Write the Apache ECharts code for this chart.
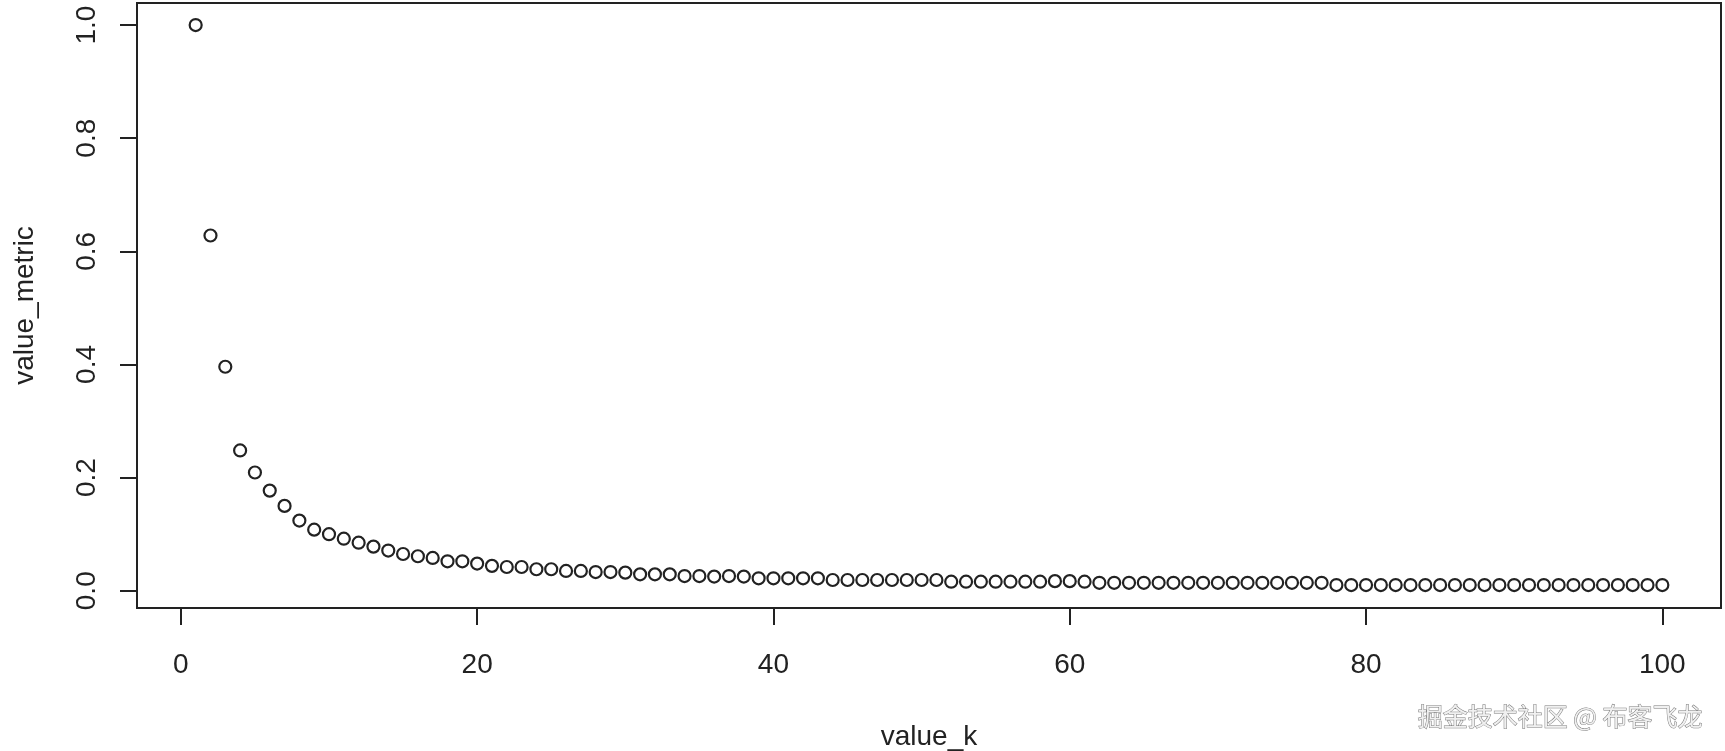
<!DOCTYPE html>
<html>
<head>
<meta charset="utf-8">
<script src="https://cdn.jsdelivr.net/npm/echarts@6/dist/echarts.min.js"></script>
<style>
  html, body { margin: 0; padding: 0; background: #fff; }
  #main { width: 1725px; height: 751px; }
</style>
</head>
<body>
<div id="main"></div>
<script>
// k on the x axis
var valueK = [
  1, 2, 3, 4, 5, 6, 7, 8, 9, 10, 11, 12, 13, 14, 15, 16, 17, 18, 19, 20,
  21, 22, 23, 24, 25, 26, 27, 28, 29, 30, 31, 32, 33, 34, 35, 36, 37, 38, 39, 40,
  41, 42, 43, 44, 45, 46, 47, 48, 49, 50, 51, 52, 53, 54, 55, 56, 57, 58, 59, 60,
  61, 62, 63, 64, 65, 66, 67, 68, 69, 70, 71, 72, 73, 74, 75, 76, 77, 78, 79, 80,
  81, 82, 83, 84, 85, 86, 87, 88, 89, 90, 91, 92, 93, 94, 95, 96, 97, 98, 99, 100
];
// metric
var valueMetric = [
  1.000, 0.628, 0.396, 0.248, 0.209, 0.177, 0.150, 0.124, 0.108, 0.100,
  0.092, 0.085, 0.078, 0.071, 0.065, 0.061, 0.058, 0.052, 0.052, 0.048,
  0.044, 0.042, 0.042, 0.038, 0.038, 0.035, 0.035, 0.033, 0.033, 0.032,
  0.029, 0.029, 0.029, 0.026, 0.026, 0.025, 0.026, 0.025, 0.022, 0.022,
  0.022, 0.022, 0.022, 0.019, 0.019, 0.019, 0.019, 0.019, 0.019, 0.019,
  0.019, 0.016, 0.016, 0.016, 0.016, 0.016, 0.016, 0.016, 0.017, 0.017,
  0.016, 0.014, 0.014, 0.014, 0.014, 0.014, 0.014, 0.014, 0.014, 0.014,
  0.014, 0.014, 0.014, 0.014, 0.014, 0.014, 0.014, 0.010, 0.010, 0.010,
  0.010, 0.010, 0.010, 0.010, 0.010, 0.010, 0.010, 0.010, 0.010, 0.010,
  0.010, 0.010, 0.010, 0.010, 0.010, 0.010, 0.010, 0.010, 0.010, 0.010
];
var xTicks = [0, 20, 40, 60, 80, 100];
var yTicks = [0, 0.2, 0.4, 0.6, 0.8, 1.0];

var points = valueK.map(function (k, i) { return [k, valueMetric[i]]; });

var font = "'Liberation Sans', Arial, sans-serif";
var ink = '#222';

var myChart = echarts.init(document.getElementById('main'));
var option = {
  backgroundColor: '#fff',
  animation: false,
  grid: {
    left: 137, top: 3, width: 1584, height: 605,
    outerBoundsMode: 'none',
    containLabel: false,
    show: true, borderColor: ink, borderWidth: 2, backgroundColor: 'transparent'
  },
  xAxis: {
    type: 'value',
    min: -2.96, max: 103.96,
    name: 'value_k',
    nameLocation: 'middle',
    nameGap: 115,
    nameTextStyle: { color: ink, fontFamily: font, fontSize: 28 },
    axisLine: { show: false, onZero: false },
    splitLine: { show: false },
    axisTick: { show: true, inside: false, length: 17, customValues: xTicks,
      lineStyle: { color: ink, width: 2 } },
    axisLabel: { customValues: xTicks, margin: 43, color: ink,
      fontFamily: font, fontSize: 28 }
  },
  yAxis: {
    type: 'value',
    min: -0.0305, max: 1.039,
    name: 'value_metric',
    nameLocation: 'middle',
    nameGap: 98,
    nameTextStyle: { color: ink, fontFamily: font, fontSize: 28 },
    axisLine: { show: false, onZero: false },
    splitLine: { show: false },
    axisTick: { show: true, inside: false, length: 17, customValues: yTicks,
      lineStyle: { color: ink, width: 2 } },
    axisLabel: { customValues: yTicks, rotate: 90, margin: 36, color: ink,
      fontFamily: font, fontSize: 28,
      formatter: function (v) { return v.toFixed(1); } }
  },
  graphic: [{
    type: 'text',
    right: 22, top: 703,
    style: {
      text: '掘金技术社区 @ 布客飞龙',
      font: "25px 'Noto Sans CJK SC', sans-serif",
      fill: '#f0f0f0',
      stroke: '#7a7a7a',
      lineWidth: 1,
      shadowColor: 'rgba(0,0,0,0.35)',
      shadowBlur: 2,
      shadowOffsetX: 1,
      shadowOffsetY: 1
    }
  }],
  series: [{
    type: 'scatter',
    data: points,
    symbol: 'circle',
    symbolSize: 12,
    itemStyle: { color: 'rgba(0,0,0,0)', borderColor: ink, borderWidth: 2.2, opacity: 1 }
  }]
};
myChart.setOption(option);
</script>
</body>
</html>
